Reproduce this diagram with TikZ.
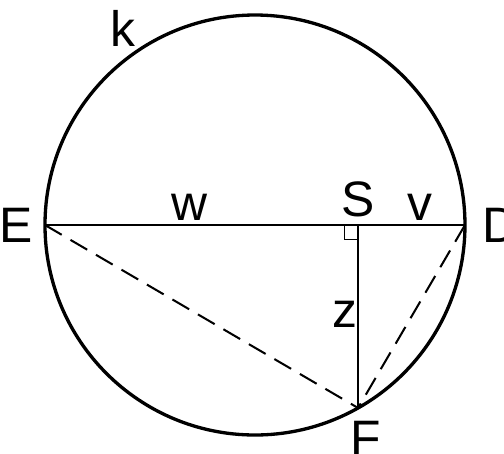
\documentclass[tikz,border=0pt]{standalone}
\usepackage{fontspec}
\setmainfont{Liberation Sans}
\usetikzlibrary{positioning}

\begin{document}
\begin{tikzpicture}[
every node/.style={inner sep=1pt, font=\fontsize{27}{32}\selectfont},
thin line/.style={line width=1.1pt},
dash line/.style={line width=1.1pt, dash pattern=on 10.5pt off 5.5pt}
]
\useasboundingbox (-4.857,-4.343) rectangle (4.743,4.286);
\coordinate (O) at (0,0);
\coordinate (E) at (180:4);
\coordinate (D) at (0:4);
\coordinate (F) at (-60.6:4);
\coordinate (S) at (F |- O);

\draw[line width=1.8pt] (O) circle (4);
\draw[thin line] (E) -- (D);
\draw[thin line] (S) -- (F);
\draw[dash line] (E) -- (F);
\draw[dash line] (D) -- (F);
\draw[line width=0.7pt] ([yshift=-0.28cm]S) -- ++(-0.26,0) -- ++(0,0.28);

\node[left=0.2cm of E] (Elabel) {E};
\node[right=0.3cm of D, anchor=west] (Dlabel) {D};
\node[above=0.12cm of S] (Slabel) {S};
\node[below=0.22cm of F, xshift=0.15cm] (Flabel) {F};
\node at (-1.257,0.33) (w) {w};
\node at (3.14,0.33) (v) {v};
\node at (1.714,-1.7) (z) {z};
\node at (-2.515,3.74) (k) {k};
\end{tikzpicture}
\end{document}
